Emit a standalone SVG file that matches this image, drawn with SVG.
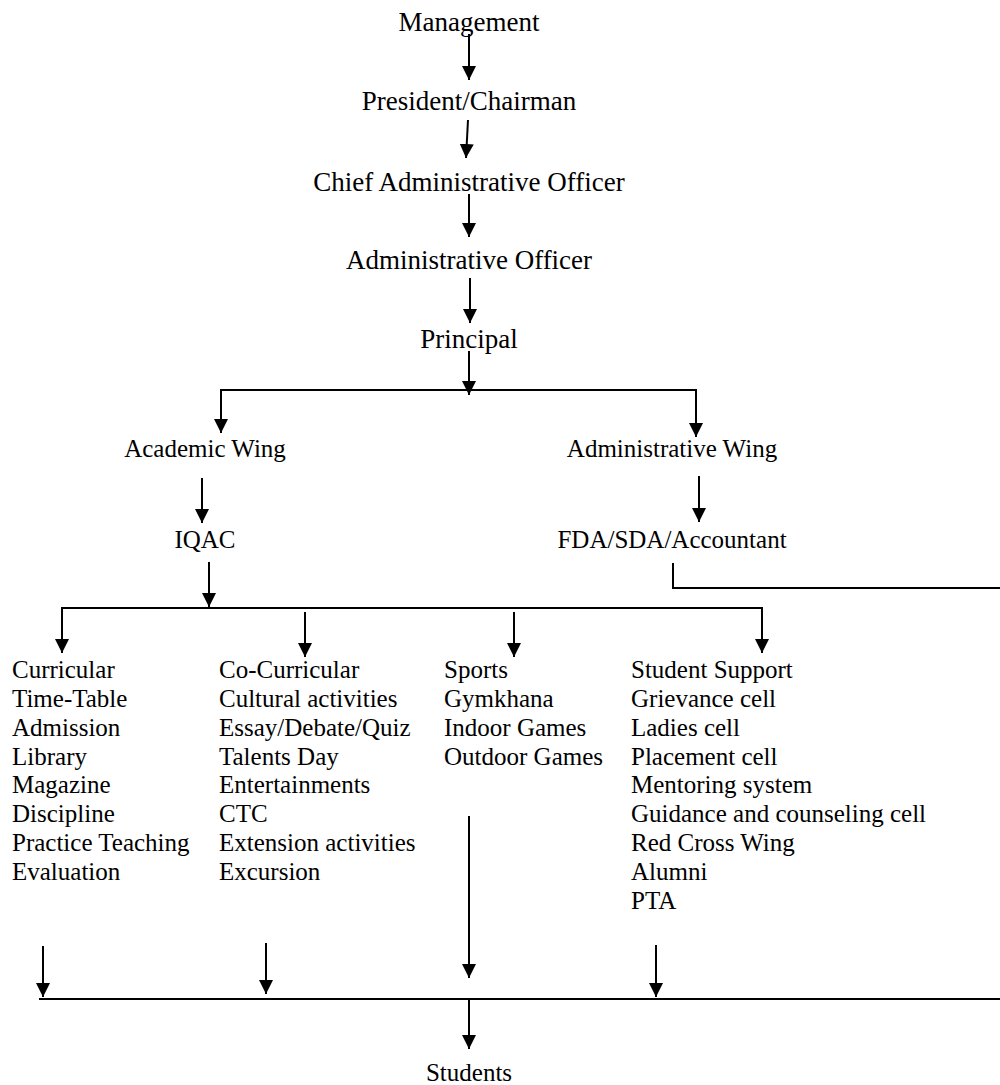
<svg xmlns="http://www.w3.org/2000/svg" width="1000" height="1085" viewBox="0 0 1000 1085">
<style>
text{font-family:"Liberation Serif","Times New Roman",serif;fill:#000}
.t{font-size:27px;text-anchor:middle}
.m{font-size:25px;text-anchor:middle}
.l{font-size:25px}
.c line,.c path{stroke:#000;stroke-width:2;fill:none}
.a{marker-end:url(#ah)}
</style>
<defs>
<marker id="ah" markerUnits="userSpaceOnUse" markerWidth="14" markerHeight="14" refX="14" refY="7" orient="auto">
<path d="M0,0 L14,7 L0,14 z" fill="#000"/>
</marker>
</defs>
<rect width="1000" height="1085" fill="#fff"/>
<g id="management"><text class="t" x="469" y="31">Management</text></g>
<g id="president"><text class="t" x="469" y="110">President/Chairman</text></g>
<g id="cao"><text class="t" x="469" y="191">Chief Administrative Officer</text></g>
<g id="ao"><text class="t" x="469" y="269">Administrative Officer</text></g>
<g id="principal"><text class="t" x="469" y="348">Principal</text></g>
<g id="academic-wing"><text class="m" x="205" y="457">Academic Wing</text></g>
<g id="administrative-wing"><text class="m" x="672" y="457">Administrative Wing</text></g>
<g id="iqac"><text class="m" x="205" y="548">IQAC</text></g>
<g id="fda"><text class="m" x="672" y="548">FDA/SDA/Accountant</text></g>
<g id="curricular" class="l">
<text x="12" y="678">Curricular</text>
<text x="12" y="707">Time-Table</text>
<text x="12" y="736">Admission</text>
<text x="12" y="765">Library</text>
<text x="12" y="793">Magazine</text>
<text x="12" y="822">Discipline</text>
<text x="12" y="851">Practice Teaching</text>
<text x="12" y="880">Evaluation</text>
</g>
<g id="co-curricular" class="l">
<text x="219" y="678">Co-Curricular</text>
<text x="219" y="707">Cultural activities</text>
<text x="219" y="736">Essay/Debate/Quiz</text>
<text x="219" y="765">Talents Day</text>
<text x="219" y="793">Entertainments</text>
<text x="219" y="822">CTC</text>
<text x="219" y="851">Extension activities</text>
<text x="219" y="880">Excursion</text>
</g>
<g id="sports" class="l">
<text x="444" y="678">Sports</text>
<text x="444" y="707">Gymkhana</text>
<text x="444" y="736">Indoor Games</text>
<text x="444" y="765">Outdoor Games</text>
</g>
<g id="student-support" class="l">
<text x="631" y="678">Student Support</text>
<text x="631" y="707">Grievance cell</text>
<text x="631" y="736">Ladies cell</text>
<text x="631" y="765">Placement cell</text>
<text x="631" y="793">Mentoring system</text>
<text x="631" y="822">Guidance and counseling cell</text>
<text x="631" y="851">Red Cross Wing</text>
<text x="631" y="880">Alumni</text>
<text x="631" y="909">PTA</text>
</g>
<g id="students"><text class="m" x="469" y="1081">Students</text></g>
<g id="connectors" class="c">
<line class="a" x1="469" y1="34" x2="469" y2="80"/>
<line class="a" x1="468" y1="120" x2="466" y2="158"/>
<line class="a" x1="469" y1="194" x2="469" y2="237"/>
<line class="a" x1="470" y1="278" x2="470" y2="323"/>
<line class="a" x1="469" y1="351" x2="469" y2="395"/>
<line x1="220" y1="390" x2="697" y2="390"/>
<line class="a" x1="221" y1="390" x2="221" y2="433"/>
<line class="a" x1="696" y1="390" x2="696" y2="437"/>
<line class="a" x1="202" y1="478" x2="202" y2="523"/>
<line class="a" x1="699" y1="476" x2="699" y2="522"/>
<line class="a" x1="209" y1="562" x2="209" y2="607"/>
<path d="M673,563 V588 H1000"/>
<line x1="61" y1="608" x2="763" y2="608"/>
<line class="a" x1="62" y1="608" x2="62" y2="653"/>
<line class="a" x1="305" y1="612" x2="305" y2="657"/>
<line class="a" x1="514" y1="612" x2="514" y2="657"/>
<line class="a" x1="762" y1="608" x2="762" y2="653"/>
<line class="a" x1="43" y1="946" x2="43" y2="997"/>
<line class="a" x1="266" y1="943" x2="266" y2="994"/>
<line class="a" x1="469" y1="816" x2="469" y2="978"/>
<line class="a" x1="656" y1="945" x2="656" y2="997"/>
<line x1="39" y1="999" x2="1000" y2="999"/>
<line class="a" x1="469" y1="999" x2="469" y2="1049"/>
</g>
</svg>
